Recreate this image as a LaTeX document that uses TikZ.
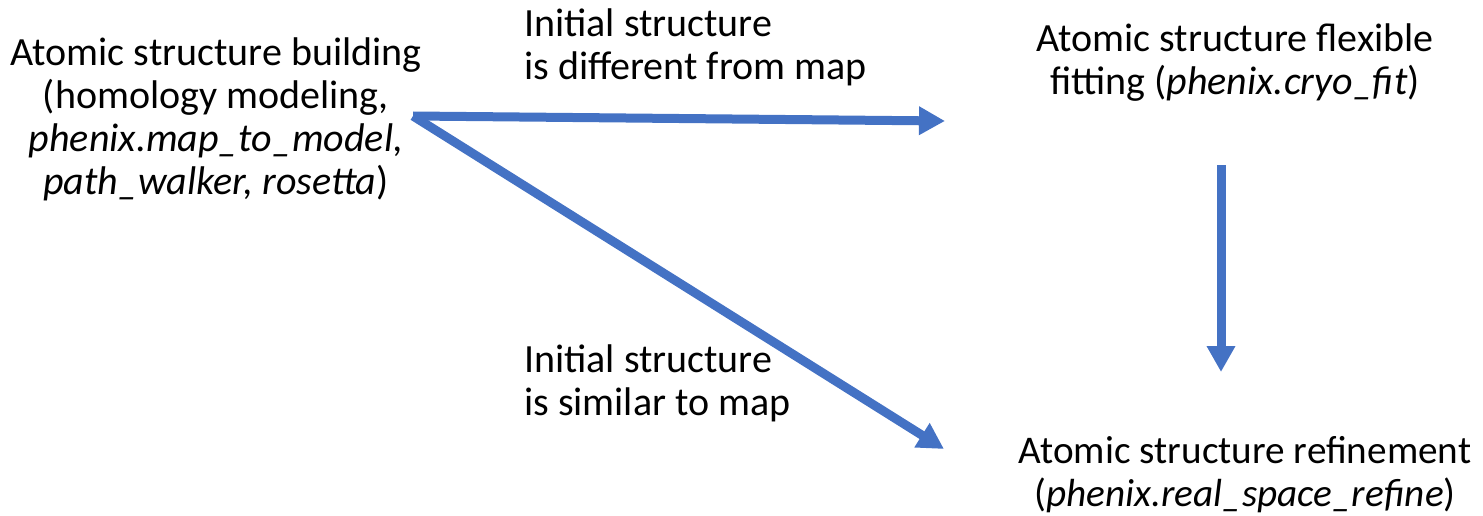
\documentclass[tikz,border=0pt]{standalone}
\usepackage{fontspec}
\setmainfont{Carlito}
\usetikzlibrary{arrows.meta}

\definecolor{flowblue}{RGB}{68,114,196}

\begin{document}
\begin{tikzpicture}[x=1pt,y=-1pt,
  txt/.style={inner sep=0pt,align=center,anchor=base,font=\fontsize{40}{43}\selectfont},
  cond/.style={txt,align=left,anchor=base west},
  flow/.style={draw=flowblue,line width=9pt,-{Triangle[length=26pt,width=27pt]}}]
\useasboundingbox (0,0) rectangle (1483,516);
\node[txt] (build) at (216,194) {Atomic structure building\\(homology modeling,\\\textit{phenix.map\_to\_model,}\\\textit{path\_walker, rosetta})};
\node[cond] (differ) at (524,80) {Initial structure\\is different from map};
\node[cond] (similar) at (524,415) {Initial structure\\is similar to map};
\node[txt] (flex) at (1235,95) {Atomic structure flexible\\fitting (\textit{phenix.cryo\_fit})};
\node[txt,font=\fontsize{39.2}{43}\selectfont] (refine) at (1245,506) {Atomic structure refinement\\(\textit{phenix.real\_space\_refine})};
\coordinate (fork) at (413,116);
\coordinate (tipflex) at (945,121);
\coordinate (tipref) at (944,449);
\coordinate (vtop) at (1221,165);
\coordinate (vtip) at (1221,372);
\draw[flow] (fork) -- (tipflex);
\draw[flow] (fork) -- (tipref);
\draw[flow] (vtop) -- (vtip);
\end{tikzpicture}
\end{document}
